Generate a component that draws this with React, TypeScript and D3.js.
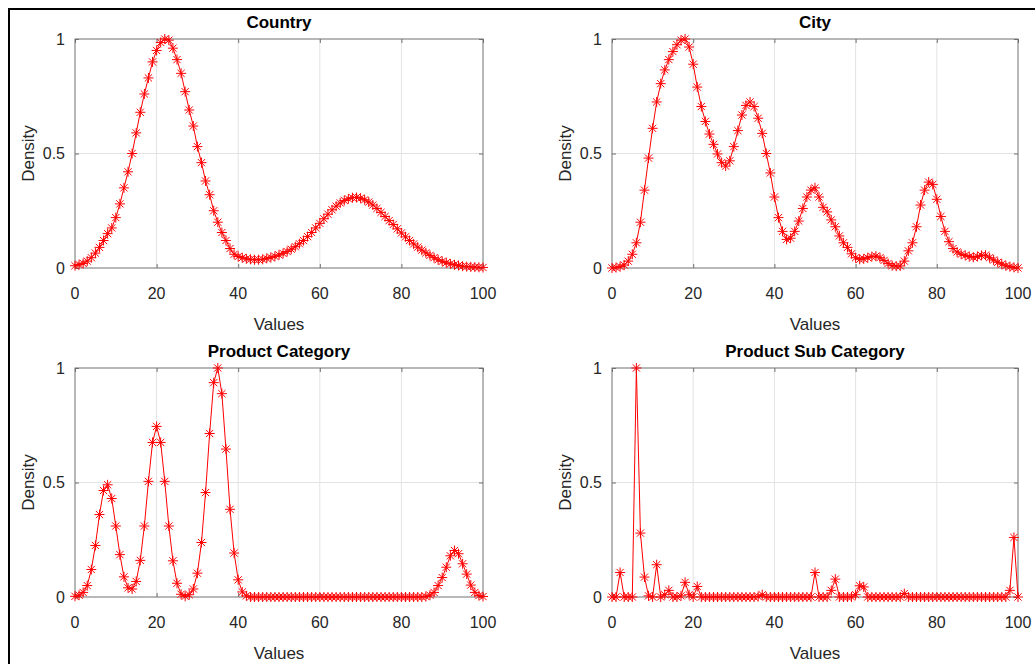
import React, { useEffect, useRef } from "react";
import * as d3 from "d3";

// density estimates sampled at x = 0..100 (one value per integer)
const countryDensity = [
  0.01, 0.015, 0.02, 0.03, 0.045, 0.065, 0.09, 0.12, 0.15, 0.175,
  0.22, 0.28, 0.35, 0.42, 0.5, 0.59, 0.68, 0.76, 0.83, 0.9,
  0.95, 0.985, 1.0, 0.995, 0.96, 0.91, 0.85, 0.77, 0.69, 0.62,
  0.53, 0.46, 0.38, 0.32, 0.25, 0.2, 0.155, 0.12, 0.085, 0.06,
  0.05, 0.045, 0.04, 0.038, 0.036, 0.036, 0.038, 0.042, 0.046, 0.051,
  0.057, 0.064, 0.072, 0.082, 0.093, 0.106, 0.12, 0.137, 0.155, 0.175,
  0.195, 0.215, 0.235, 0.254, 0.27, 0.284, 0.295, 0.302, 0.307, 0.308,
  0.305, 0.298, 0.288, 0.275, 0.26, 0.243, 0.225, 0.207, 0.19, 0.171,
  0.153, 0.136, 0.12, 0.105, 0.091, 0.078, 0.066, 0.055, 0.045, 0.036,
  0.029, 0.023, 0.018, 0.014, 0.011, 0.008, 0.006, 0.005, 0.004, 0.003,
  0.002,
];

const cityDensity = [
  0.0, 0.002, 0.006, 0.013, 0.03, 0.06, 0.11, 0.2, 0.34, 0.48,
  0.61, 0.725, 0.805, 0.865, 0.91, 0.945, 0.975, 0.995, 1.0, 0.965,
  0.89, 0.79, 0.705, 0.64, 0.585, 0.54, 0.498, 0.46, 0.445, 0.468,
  0.53, 0.6, 0.668, 0.71, 0.725, 0.705, 0.654, 0.588, 0.5, 0.415,
  0.31, 0.22, 0.16, 0.125, 0.13, 0.16, 0.205, 0.26, 0.31, 0.34,
  0.35, 0.31, 0.265, 0.245, 0.21, 0.18, 0.14, 0.11, 0.09, 0.062,
  0.045, 0.038, 0.04, 0.045, 0.05, 0.052, 0.045, 0.033, 0.02, 0.01,
  0.008, 0.009, 0.03, 0.075, 0.11, 0.18, 0.275, 0.34, 0.375, 0.365,
  0.3, 0.225, 0.16, 0.115, 0.085, 0.07, 0.06, 0.055, 0.05, 0.047,
  0.05, 0.055, 0.056, 0.045, 0.035, 0.025, 0.017, 0.01, 0.006, 0.003,
  0.0,
];

const productCategoryDensity = [
  0.003, 0.008, 0.02, 0.05, 0.12, 0.225, 0.36, 0.465, 0.49, 0.43,
  0.31, 0.185, 0.088, 0.04, 0.035, 0.068, 0.16, 0.31, 0.505, 0.675,
  0.745, 0.675, 0.505, 0.31, 0.158, 0.06, 0.012, 0.003, 0.01, 0.035,
  0.104, 0.238, 0.456, 0.714, 0.936, 1.0, 0.888, 0.646, 0.383, 0.192,
  0.075, 0.022, 0.005, 0, 0, 0, 0, 0, 0, 0,
  0, 0, 0, 0, 0, 0, 0, 0, 0, 0,
  0, 0, 0, 0, 0, 0, 0, 0, 0, 0,
  0, 0, 0, 0, 0, 0, 0, 0, 0, 0,
  0, 0, 0, 0, 0, 0, 0.002, 0.008, 0.02, 0.05,
  0.085, 0.13, 0.18, 0.203, 0.189, 0.145, 0.1, 0.052, 0.02, 0.006,
  0.002,
];

const productSubCategoryDensity = [
  0, 0, 0.107, 0, 0, 0, 1.0, 0.279, 0.087, 0.005,
  0, 0.141, 0, 0.01, 0.029, 0, 0, 0.005, 0.064, 0.01,
  0, 0.046, 0, 0, 0, 0, 0, 0, 0, 0,
  0, 0, 0, 0, 0, 0, 0.002, 0.01, 0, 0,
  0, 0, 0, 0, 0, 0, 0, 0, 0, 0,
  0.107, 0, 0, 0, 0.029, 0.078, 0, 0, 0, 0,
  0.01, 0.049, 0.044, 0, 0, 0, 0, 0, 0, 0,
  0, 0, 0.015, 0, 0, 0, 0, 0, 0, 0,
  0, 0, 0, 0, 0, 0, 0, 0, 0, 0,
  0, 0, 0, 0, 0, 0, 0, 0, 0.029, 0.26,
  0,
];

const titles = ["Country", "City", "Product Category", "Product Sub Category"];
const xTicks = [0, 20, 40, 60, 80, 100];
const yTicks = [0, 0.5, 1];

const FONT = "'Liberation Sans', Arial, Helvetica, sans-serif";

export default function App() {
  const svgRef = useRef<SVGSVGElement>(null);

  useEffect(() => {
    const svg = d3.select(svgRef.current);
    svg.selectChildren().remove();

    // figure frame
    svg
      .append("rect")
      .attr("x", 9)
      .attr("y", 9)
      .attr("width", 1100)
      .attr("height", 800)
      .attr("fill", "none")
      .attr("stroke", "#000")
      .attr("stroke-width", 2);

    const series = [
      countryDensity,
      cityDensity,
      productCategoryDensity,
      productSubCategoryDensity,
    ];
    const cols = [
      [75, 483],
      [612, 1018],
    ];
    const rows = [
      [268, 39],
      [597, 368],
    ];

    const star = "M-5,0H5M0,-5V5M-3.6,-3.6L3.6,3.6M-3.6,3.6L3.6,-3.6";

    series.forEach((values, i) => {
      const [x0, x1] = cols[i % 2];
      const [y0, y1] = rows[Math.floor(i / 2)];
      const x = d3.scaleLinear().domain([0, 100]).range([x0, x1]);
      const y = d3.scaleLinear().domain([0, 1]).range([y0, y1]);
      const g = svg.append("g");

      // grid
      g.selectAll(".gx")
        .data(xTicks.slice(1, -1))
        .enter()
        .append("line")
        .attr("x1", (d) => x(d))
        .attr("x2", (d) => x(d))
        .attr("y1", y0)
        .attr("y2", y1)
        .attr("stroke", "#e3e3e3")
        .attr("stroke-width", 1);
      g.selectAll(".gy")
        .data(yTicks.slice(1, -1))
        .enter()
        .append("line")
        .attr("x1", x0)
        .attr("x2", x1)
        .attr("y1", (d) => y(d))
        .attr("y2", (d) => y(d))
        .attr("stroke", "#e3e3e3")
        .attr("stroke-width", 1);

      // axes box with inward ticks on all sides
      const axisColor = "#707070";
      g.append("g")
        .attr("transform", `translate(0,${y0})`)
        .call(d3.axisBottom(x).tickValues(xTicks).tickSize(-4).tickFormat(() => ""));
      g.append("g")
        .attr("transform", `translate(0,${y1})`)
        .call(d3.axisTop(x).tickValues(xTicks).tickSize(-4).tickFormat(() => ""));
      g.append("g")
        .attr("transform", `translate(${x0},0)`)
        .call(d3.axisLeft(y).tickValues(yTicks).tickSize(-4).tickFormat(() => ""));
      g.append("g")
        .attr("transform", `translate(${x1},0)`)
        .call(d3.axisRight(y).tickValues(yTicks).tickSize(-4).tickFormat(() => ""));
      g.selectAll(".domain, .tick line")
        .attr("stroke", axisColor)
        .attr("stroke-width", 1);
      g.selectAll(".domain").attr("d", null);
      g.append("rect")
        .attr("x", x0)
        .attr("y", y1)
        .attr("width", x1 - x0)
        .attr("height", y0 - y1)
        .attr("fill", "none")
        .attr("stroke", axisColor)
        .attr("stroke-width", 1);

      // tick labels
      g.selectAll(".xl")
        .data(xTicks)
        .enter()
        .append("text")
        .attr("x", (d) => x(d))
        .attr("y", y0 + 31)
        .attr("text-anchor", "middle")
        .attr("font-family", FONT)
        .attr("font-size", 16)
        .attr("fill", "#262626")
        .text((d) => String(d));
      g.selectAll(".yl")
        .data(yTicks)
        .enter()
        .append("text")
        .attr("x", x0 - 10)
        .attr("y", (d) => y(d) + 5.5)
        .attr("text-anchor", "end")
        .attr("font-family", FONT)
        .attr("font-size", 16)
        .attr("fill", "#262626")
        .text((d) => String(d));

      // labels and title
      g.append("text")
        .attr("x", (x0 + x1) / 2)
        .attr("y", y0 + 62)
        .attr("text-anchor", "middle")
        .attr("font-family", FONT)
        .attr("font-size", 17)
        .attr("fill", "#262626")
        .text("Values");
      g.append("text")
        .attr("transform", `translate(${x0 - 41},${(y0 + y1) / 2}) rotate(-90)`)
        .attr("text-anchor", "middle")
        .attr("font-family", FONT)
        .attr("font-size", 17)
        .attr("fill", "#262626")
        .text("Density");
      g.append("text")
        .attr("x", (x0 + x1) / 2)
        .attr("y", y1 - 11)
        .attr("text-anchor", "middle")
        .attr("font-family", FONT)
        .attr("font-size", 17)
        .attr("font-weight", "bold")
        .attr("fill", "#000")
        .text(titles[i]);

      // density line and star markers
      const pts: Array<[number, number]> = values.map((v, k) => [x(k), y(v)]);
      g.append("path")
        .attr("d", d3.line()(pts))
        .attr("fill", "none")
        .attr("stroke", "#ff0000")
        .attr("stroke-width", 1);
      g.append("g")
        .selectAll("path")
        .data(pts)
        .enter()
        .append("path")
        .attr("transform", (d) => `translate(${d[0]},${d[1]})`)
        .attr("d", star)
        .attr("fill", "none")
        .attr("stroke", "#ff0000")
        .attr("stroke-width", 1);
    });
  }, []);

  return (
    <svg
      ref={svgRef}
      width={1035}
      height={664}
      style={{ position: "absolute", left: 0, top: 0, background: "#fff" }}
    />
  );
}
